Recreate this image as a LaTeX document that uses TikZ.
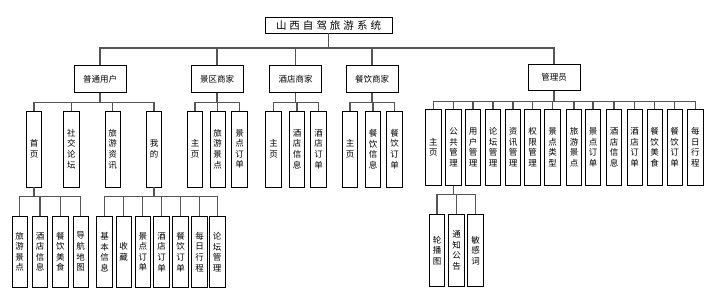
\documentclass[tikz,border=0pt]{standalone}
\usepackage{fontspec}
\newfontfamily\cjk{Noto Sans CJK SC}
\tikzset{
  base/.style={draw=black, line width=0.8pt, fill=white, inner sep=0pt},
  rootbox/.style={base, minimum width=127pt, minimum height=16pt, font=\cjk\fontsize{10.5}{12}\selectfont},
  topbox/.style={base, minimum width=52pt, minimum height=26.5pt, font=\cjk\fontsize{8.5}{10}\selectfont},
  vbox/.style={base, minimum width=15.5pt, minimum height=76pt, align=center, font=\cjk\fontsize{8.5}{10.6}\selectfont},
  lbox/.style={base, minimum width=15.5pt, minimum height=71.5pt, align=center, font=\cjk\fontsize{8.5}{10.6}\selectfont},
  link/.style={draw={rgb,255:red,85;green,85;blue,85}, line width=1.2pt},
}
\begin{document}
\begin{tikzpicture}[x=1pt,y=-1pt]
\useasboundingbox (0,0) rectangle (712,298);
% root
\node[rootbox] (root) at (328.5,25) {山\kern3pt西\kern3pt自\kern3pt驾\kern3pt旅\kern3pt游\kern3pt系\kern3pt统};
% level 1
\node[topbox] (u) at (100,79) {普通用户};
\node[topbox] (s) at (217,79) {景区商家};
\node[topbox] (h) at (295.5,79) {酒店商家};
\node[topbox] (c) at (372,79) {餐饮商家};
\node[topbox] (a) at (554,77.5) {管理员};
% level 2 - user
\node[vbox] (u1) at (34,149) {首\\页};
\node[vbox] (u2) at (71.3,149) {社\\交\\论\\坛};
\node[vbox] (u3) at (112.7,149) {旅\\游\\资\\讯};
\node[vbox] (u4) at (154,149) {我\\的};
% scenic
\node[vbox] (s1) at (195,149) {主\\页};
\node[vbox] (s2) at (217.7,149) {旅\\游\\景\\点};
\node[vbox] (s3) at (239.5,149) {景\\点\\订\\单};
% hotel
\node[vbox] (h1) at (273.5,149) {主\\页};
\node[vbox] (h2) at (297,149) {酒\\店\\信\\息};
\node[vbox] (h3) at (318.5,149) {酒\\店\\订\\单};
% catering
\node[vbox] (c1) at (350,149) {主\\页};
\node[vbox] (c2) at (373,149) {餐\\饮\\信\\息};
\node[vbox] (c3) at (394.5,149) {餐\\饮\\订\\单};
% admin
\node[vbox] (a1) at (433.3,147.3) {主\\页};
\node[vbox] (a2) at (453.5,147.3) {公\\共\\管\\理};
\node[vbox] (a3) at (473,147.3) {用\\户\\管\\理};
\node[vbox] (a4) at (493,147.3) {论\\坛\\管\\理};
\node[vbox] (a5) at (513,147.3) {资\\讯\\管\\理};
\node[vbox] (a6) at (532.5,147.3) {权\\限\\管\\理};
\node[vbox] (a7) at (552.5,147.3) {景\\点\\类\\型};
\node[vbox] (a8) at (574,147.3) {旅\\游\\景\\点};
\node[vbox] (a9) at (593,147.3) {景\\点\\订\\单};
\node[vbox] (a10) at (614,147.3) {酒\\店\\信\\息};
\node[vbox] (a11) at (634.7,147.3) {酒\\店\\订\\单};
\node[vbox] (a12) at (654.7,147.3) {餐\\饮\\美\\食};
\node[vbox] (a13) at (674.7,147.3) {餐\\饮\\订\\单};
\node[vbox] (a14) at (695.3,147.3) {每\\日\\行\\程};
% level 3 - home
\node[lbox] (u11) at (19.7,251.7) {旅\\游\\景\\点};
\node[lbox] (u12) at (40,251.7) {酒\\店\\信\\息};
\node[lbox] (u13) at (60.3,251.7) {餐\\饮\\美\\食};
\node[lbox] (u14) at (80.7,251.7) {导\\航\\地\\图};
% level 3 - mine
\node[lbox] (u41) at (104.5,252) {基\\本\\信\\息};
\node[lbox] (u42) at (123.7,252) {收\\藏};
\node[lbox] (u43) at (142.8,252) {景\\点\\订\\单};
\node[lbox] (u44) at (161.5,252) {酒\\店\\订\\单};
\node[lbox] (u45) at (180.5,252) {餐\\饮\\订\\单};
\node[lbox] (u46) at (199.5,252) {每\\日\\行\\程};
\node[lbox] (u47) at (217.2,252) {论\\坛\\管\\理};
% level 3 - public management
\node[lbox] (a21) at (437,250.5) {轮\\播\\图};
\node[lbox] (a22) at (456.5,250.5) {通\\知\\公\\告};
\node[lbox] (a23) at (475.5,250.5) {敏\\感\\词};
% connectors
\begin{scope}[on background layer/.try]
\foreach \ch in {u,s,h,c,a} \draw[link] (root.south) -- ++(0,14.5) -| (\ch.north);
\foreach \ch in {u1,u2,u3,u4} \draw[link] (u.south) -- ++(0,10) -| (\ch.north);
\foreach \ch in {s1,s2,s3} \draw[link] (s.south) -- ++(0,10) -| (\ch.north);
\foreach \ch in {h1,h2,h3} \draw[link] (h.south) -- ++(0,10) -| (\ch.north);
\foreach \ch in {c1,c2,c3} \draw[link] (c.south) -- ++(0,10) -| (\ch.north);
\foreach \ch in {a1,a2,a3,a4,a5,a6,a7,a8,a9,a10,a11,a12,a13,a14} \draw[link] (a.south) -- ++(0,10) -| (\ch.north);
\foreach \ch in {u11,u12,u13,u14} \draw[link] (u1.south) -- ++(0,8.7) -| (\ch.north);
\foreach \ch in {u41,u42,u43,u44,u45,u46,u47} \draw[link] (u4.south) -- ++(0,8.7) -| (\ch.north);
\foreach \ch in {a21,a22,a23} \draw[link] (a2.south) -- ++(0,9) -| (\ch.north);
\end{scope}
\end{tikzpicture}
\end{document}
